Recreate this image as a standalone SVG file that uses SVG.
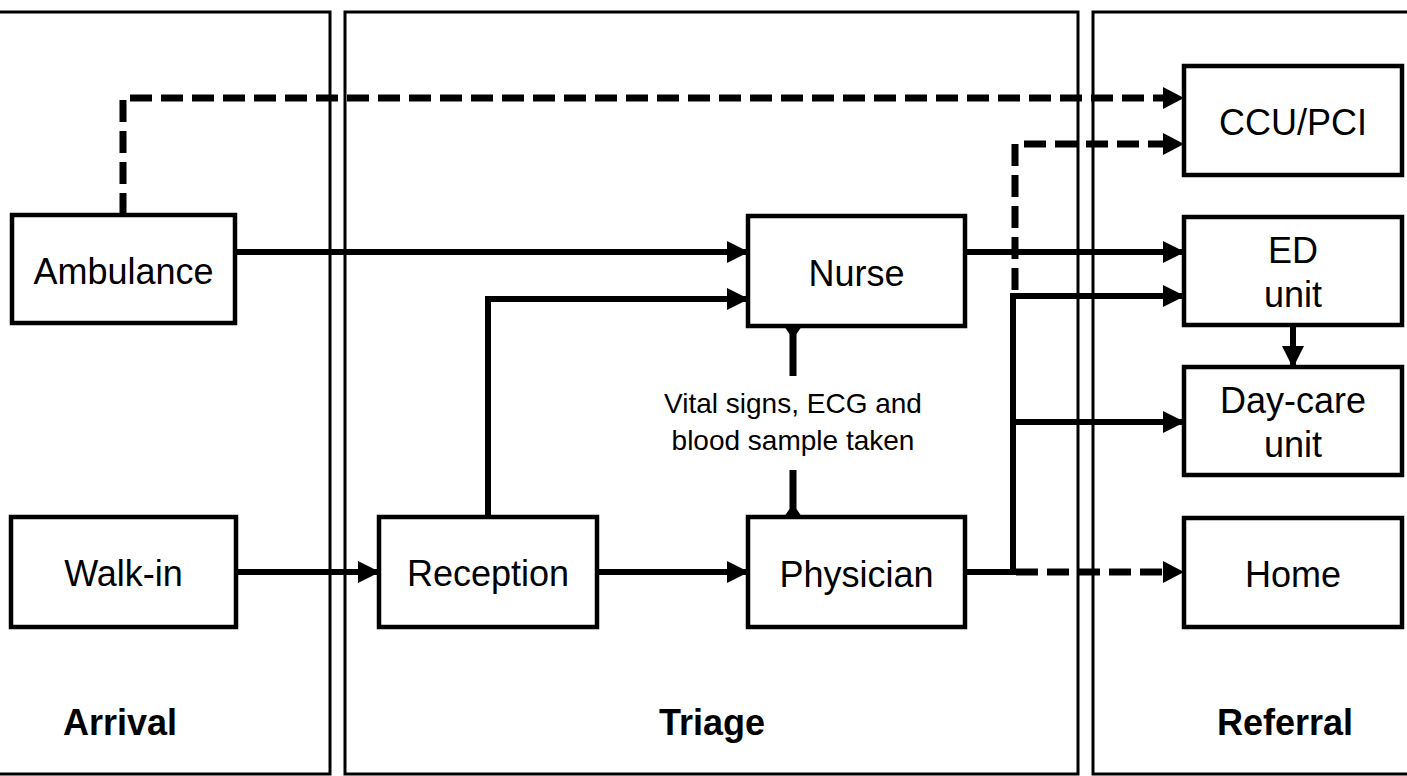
<svg xmlns="http://www.w3.org/2000/svg" width="1407" height="776" viewBox="0 0 1407 776">
<defs>
<style>
.panel{fill:none;stroke:#000;stroke-width:3}
.box{fill:#fff;stroke:#000;stroke-width:4.5}
.lbl{font-family:"Liberation Sans",Arial,sans-serif;font-size:36px;text-anchor:middle;fill:#000}
.sec{font-family:"Liberation Sans",Arial,sans-serif;font-size:36px;font-weight:bold;text-anchor:middle;fill:#000}
.note{font-family:"Liberation Sans",Arial,sans-serif;font-size:28px;text-anchor:middle;fill:#000}
.solid{fill:none;stroke:#000;stroke-width:6}
.dash{fill:none;stroke:#000;stroke-width:7;stroke-dasharray:22 9}
</style>
<marker id="ah" markerUnits="userSpaceOnUse" markerWidth="22" markerHeight="22" refX="21" refY="11" orient="auto" viewBox="0 0 22 22">
<path d="M0,0 L22,11 L0,22 Z" fill="#000"/>
</marker>
</defs>
<rect width="1407" height="776" fill="#fff"/>
<g id="panels">
<rect class="panel" x="-10" y="12" width="340" height="762"/>
<rect class="panel" x="345" y="12" width="733" height="762"/>
<rect class="panel" x="1093" y="12" width="330" height="762"/>
<text class="sec" x="120" y="735">Arrival</text>
<text class="sec" x="712" y="735">Triage</text>
<text class="sec" x="1285" y="735">Referral</text>
</g>
<g id="connectors">
<path class="dash" d="M123,215 V98 H1163" />
<path d="M1163,87 L1184,98 L1163,109 Z" fill="#000"/>
<path class="solid" d="M235,252 H748" marker-end="url(#ah)"/>
<path class="solid" d="M236,572 H379" marker-end="url(#ah)"/>
<path class="solid" d="M488,517 V299 H748" marker-end="url(#ah)"/>
<path class="solid" d="M597,572 H748" marker-end="url(#ah)"/>
<path class="solid" d="M965,252 H1184" marker-end="url(#ah)"/>
<path class="dash" d="M1015,290 V144 H1163"/>
<path d="M1163,133 L1184,144 L1163,155 Z" fill="#000"/>
<path class="solid" d="M965,572 H1013"/>
<path class="solid" d="M1013,575 V296 H1184" marker-end="url(#ah)"/>
<path class="solid" d="M1013,422 H1184" marker-end="url(#ah)"/>
<path class="dash" d="M1016,572 H1163"/>
<path d="M1163,561 L1184,572 L1163,583 Z" fill="#000"/>
<path class="solid" d="M1293,325 V367" marker-end="url(#ah)"/>
<path fill="none" stroke="#000" stroke-width="7" d="M793,326 V376 M793,470 V517"/>
<path d="M784,326 L802,326 L796.5,334 L789.5,334 Z" fill="#000"/>
<path d="M784,517 L802,517 L796.5,509 L789.5,509 Z" fill="#000"/>
<text class="note" x="793" y="413">Vital signs, ECG and</text>
<text class="note" x="793" y="450">blood sample taken</text>
</g>
<g id="ambulance"><rect class="box" x="12" y="215" width="223" height="108"/><text class="lbl" x="123.5" y="284">Ambulance</text></g>
<g id="walkin"><rect class="box" x="11" y="517" width="225" height="110"/><text class="lbl" x="123.5" y="586">Walk-in</text></g>
<g id="reception"><rect class="box" x="379" y="517" width="218" height="110"/><text class="lbl" x="488" y="586">Reception</text></g>
<g id="nurse"><rect class="box" x="748" y="216" width="217" height="110"/><text class="lbl" x="856.5" y="286">Nurse</text></g>
<g id="physician"><rect class="box" x="748" y="517" width="217" height="110"/><text class="lbl" x="856.5" y="587">Physician</text></g>
<g id="ccupci"><rect class="box" x="1184" y="66" width="218" height="109"/><text class="lbl" x="1293" y="135">CCU/PCI</text></g>
<g id="edunit"><rect class="box" x="1184" y="217" width="218" height="108"/><text class="lbl" x="1293" y="263">ED</text><text class="lbl" x="1293" y="307">unit</text></g>
<g id="daycare"><rect class="box" x="1184" y="367" width="218" height="108"/><text class="lbl" x="1293" y="413">Day-care</text><text class="lbl" x="1293" y="457">unit</text></g>
<g id="home"><rect class="box" x="1184" y="518" width="218" height="109"/><text class="lbl" x="1293" y="587">Home</text></g>
</svg>
